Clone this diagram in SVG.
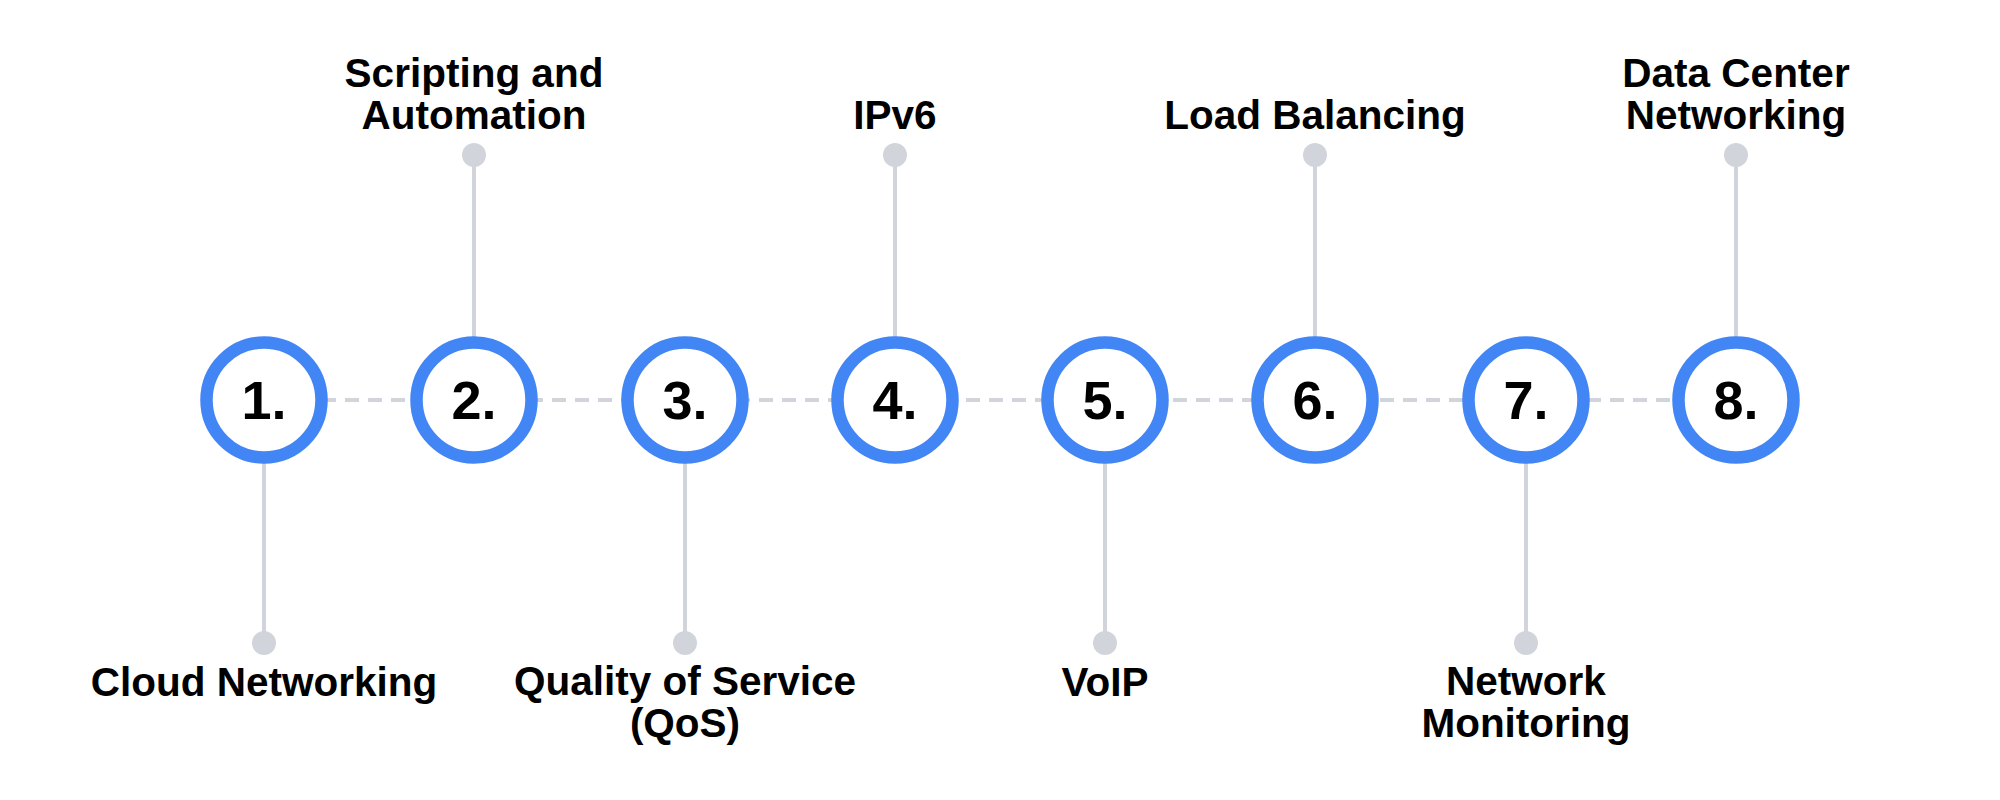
<svg xmlns="http://www.w3.org/2000/svg" width="2000" height="800" viewBox="0 0 2000 800">
<style>
.ring{fill:#fff;stroke:#4285F4;stroke-width:12.5}
.num{font-family:"Liberation Sans",Arial,sans-serif;font-weight:bold;font-size:54px;fill:#000;text-anchor:middle}
.lbl{font-family:"Liberation Sans",Arial,sans-serif;font-weight:bold;font-size:40.5px;fill:#000;text-anchor:middle}
.stem{stroke:#d1d5db;stroke-width:4;fill:none}
.dash{stroke:#d1d5db;stroke-width:4;fill:none;stroke-dasharray:14 9}
.dot{fill:#d1d5db}
</style>
<rect width="2000" height="800" fill="#fff"/>
<g id="connectors">
<line class="dash" x1="322" y1="400" x2="1678" y2="400"/>
<line class="stem" x1="264" y1="463" x2="264" y2="643"/>
<line class="stem" x1="474" y1="155" x2="474" y2="337"/>
<line class="stem" x1="685" y1="463" x2="685" y2="643"/>
<line class="stem" x1="895" y1="155" x2="895" y2="337"/>
<line class="stem" x1="1105" y1="463" x2="1105" y2="643"/>
<line class="stem" x1="1315" y1="155" x2="1315" y2="337"/>
<line class="stem" x1="1526" y1="463" x2="1526" y2="643"/>
<line class="stem" x1="1736" y1="155" x2="1736" y2="337"/>
<circle class="dot" cx="264" cy="643" r="12"/>
<circle class="dot" cx="474" cy="155" r="12"/>
<circle class="dot" cx="685" cy="643" r="12"/>
<circle class="dot" cx="895" cy="155" r="12"/>
<circle class="dot" cx="1105" cy="643" r="12"/>
<circle class="dot" cx="1315" cy="155" r="12"/>
<circle class="dot" cx="1526" cy="643" r="12"/>
<circle class="dot" cx="1736" cy="155" r="12"/>
</g>
<g id="node1"><circle class="ring" cx="264" cy="400" r="57.5"/><text class="num" x="264" y="419">1.</text><text class="lbl" x="264" y="696">Cloud Networking</text></g>
<g id="node2"><circle class="ring" cx="474" cy="400" r="57.5"/><text class="num" x="474" y="419">2.</text><text class="lbl" x="474" y="87">Scripting and</text><text class="lbl" x="474" y="129">Automation</text></g>
<g id="node3"><circle class="ring" cx="685" cy="400" r="57.5"/><text class="num" x="685" y="419">3.</text><text class="lbl" x="685" y="695">Quality of Service</text><text class="lbl" x="685" y="737">(QoS)</text></g>
<g id="node4"><circle class="ring" cx="895" cy="400" r="57.5"/><text class="num" x="895" y="419">4.</text><text class="lbl" x="895" y="129">IPv6</text></g>
<g id="node5"><circle class="ring" cx="1105" cy="400" r="57.5"/><text class="num" x="1105" y="419">5.</text><text class="lbl" x="1105" y="696">VoIP</text></g>
<g id="node6"><circle class="ring" cx="1315" cy="400" r="57.5"/><text class="num" x="1315" y="419">6.</text><text class="lbl" x="1315" y="129">Load Balancing</text></g>
<g id="node7"><circle class="ring" cx="1526" cy="400" r="57.5"/><text class="num" x="1526" y="419">7.</text><text class="lbl" x="1526" y="695">Network</text><text class="lbl" x="1526" y="737">Monitoring</text></g>
<g id="node8"><circle class="ring" cx="1736" cy="400" r="57.5"/><text class="num" x="1736" y="419">8.</text><text class="lbl" x="1736" y="87">Data Center</text><text class="lbl" x="1736" y="129">Networking</text></g>
</svg>
